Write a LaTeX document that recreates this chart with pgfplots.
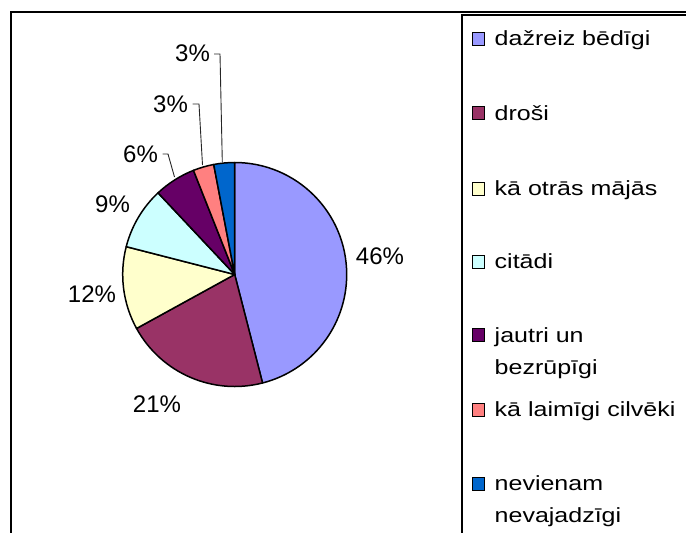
\documentclass[border=0pt]{standalone}
\usepackage{fontspec}
\setmainfont{Liberation Sans}
\newfontfamily\legfont[FakeStretch=1.22]{Liberation Sans}
\usepackage{pgfplots}
\usepackage{pgfplotstable}
\pgfplotsset{compat=1.18}
\definecolor{pc0}{HTML}{9999FF}
\definecolor{pc1}{HTML}{993366}
\definecolor{pc2}{HTML}{FFFFCC}
\definecolor{pc3}{HTML}{CCFFFF}
\definecolor{pc4}{HTML}{660066}
\definecolor{pc5}{HTML}{FF8080}
\definecolor{pc6}{HTML}{0066CC}
\pgfplotstableread[col sep=comma]{
label,value
dažreiz bēdīgi,46
droši,21
kā otrās mājās,12
citādi,9
jautri un bezrūpīgi,6
kā laimīgi cilvēki,3
nevienam nevajadzīgi,3
}\piedata
\begin{document}
\begin{tikzpicture}
\def\cum{0}
\pgfplotsforeachungrouped \i in {0,...,6}{%
  \pgfplotstablegetelem{\i}{value}\of\piedata
  \pgfmathsetmacro\a{90-3.6*\cum}%
  \pgfmathsetmacro\cum{\cum+\pgfplotsretval}%
  \pgfmathsetmacro\b{90-3.6*\cum}%
  \expandafter\xdef\csname sa\i\endcsname{\a}%
  \expandafter\xdef\csname ea\i\endcsname{\b}%
}
\begin{axis}[name=ax,
  width=686bp, height=533bp, scale only axis,
  xmin=0, xmax=686, ymin=0, ymax=533, y dir=reverse,
  hide axis, clip=true]
\pgfplotsinvokeforeach{0,...,6}{%
  \edef\temp{\noexpand\filldraw[fill=pc#1, draw=black, line width=1.5bp, line join=round]
    (axis cs:234.7,274.5) -- ++(\csname sa#1\endcsname:112bp)
    arc[start angle=\csname sa#1\endcsname, end angle=\csname ea#1\endcsname, radius=112bp] -- cycle;}%
  \temp
}
% leader lines
\draw[black!85, line width=0.9bp] (axis cs:162.5,154) -- (axis cs:168,154) -- (axis cs:174.5,177);
\draw[black!85, line width=0.9bp] (axis cs:192.5,104) -- (axis cs:199,104) -- (axis cs:202.5,165);
\draw[black!85, line width=0.9bp] (axis cs:214,54) -- (axis cs:220,54) -- (axis cs:222.3,162);
% percentage labels
\begin{scope}[every node/.style={font=\fontsize{24bp}{28bp}\selectfont, anchor=base, inner sep=0pt}]
\node at (axis cs:380,264) {46\%};
\node at (axis cs:157,412) {21\%};
\node at (axis cs:92,302) {12\%};
\node at (axis cs:112.5,212) {9\%};
\node at (axis cs:140.5,162) {6\%};
\node at (axis cs:170.5,112) {3\%};
\node at (axis cs:192.5,62) {3\%};
\end{scope}
% frames
\draw[black, line width=2bp] (axis cs:10.5,540) -- (axis cs:10.5,12.5) -- (axis cs:690,12.5);
\draw[black, line width=1.1bp] (axis cs:462,540) -- (axis cs:462,15) -- (axis cs:690,15);
% legend
\begin{scope}[every node/.style={font=\legfont\fontsize{20.5bp}{32bp}\selectfont, anchor=base west, inner sep=0pt}]
\filldraw[fill=pc0, draw=black, line width=1bp] (axis cs:472.5,32.5) rectangle (axis cs:484.5,45.5);
\node at (axis cs:494.5,46) {dažreiz bēdīgi};
\filldraw[fill=pc1, draw=black, line width=1bp] (axis cs:472.5,107) rectangle (axis cs:484.5,120);
\node at (axis cs:494.5,120.5) {droši};
\filldraw[fill=pc2, draw=black, line width=1bp] (axis cs:472.5,182) rectangle (axis cs:484.5,195);
\node at (axis cs:494.5,195.5) {kā otrās mājās};
\filldraw[fill=pc3, draw=black, line width=1bp] (axis cs:472.5,255) rectangle (axis cs:484.5,268);
\node at (axis cs:494.5,268.5) {citādi};
\filldraw[fill=pc4, draw=black, line width=1bp] (axis cs:472.5,328.5) rectangle (axis cs:484.5,341.5);
\node at (axis cs:494.5,342) {jautri un};
\node at (axis cs:494.5,374) {bezrūpīgi};
\filldraw[fill=pc5, draw=black, line width=1bp] (axis cs:472.5,403) rectangle (axis cs:484.5,416);
\node at (axis cs:494.5,416.5) {kā laimīgi cilvēki};
\filldraw[fill=pc6, draw=black, line width=1bp] (axis cs:472.5,477) rectangle (axis cs:484.5,490);
\node at (axis cs:494.5,490.5) {nevienam};
\node at (axis cs:494.5,522.5) {nevajadzīgi};
\end{scope}
\end{axis}
\pgfresetboundingbox
\path[use as bounding box] (ax.south west) rectangle (ax.north east);
\end{tikzpicture}
\end{document}
